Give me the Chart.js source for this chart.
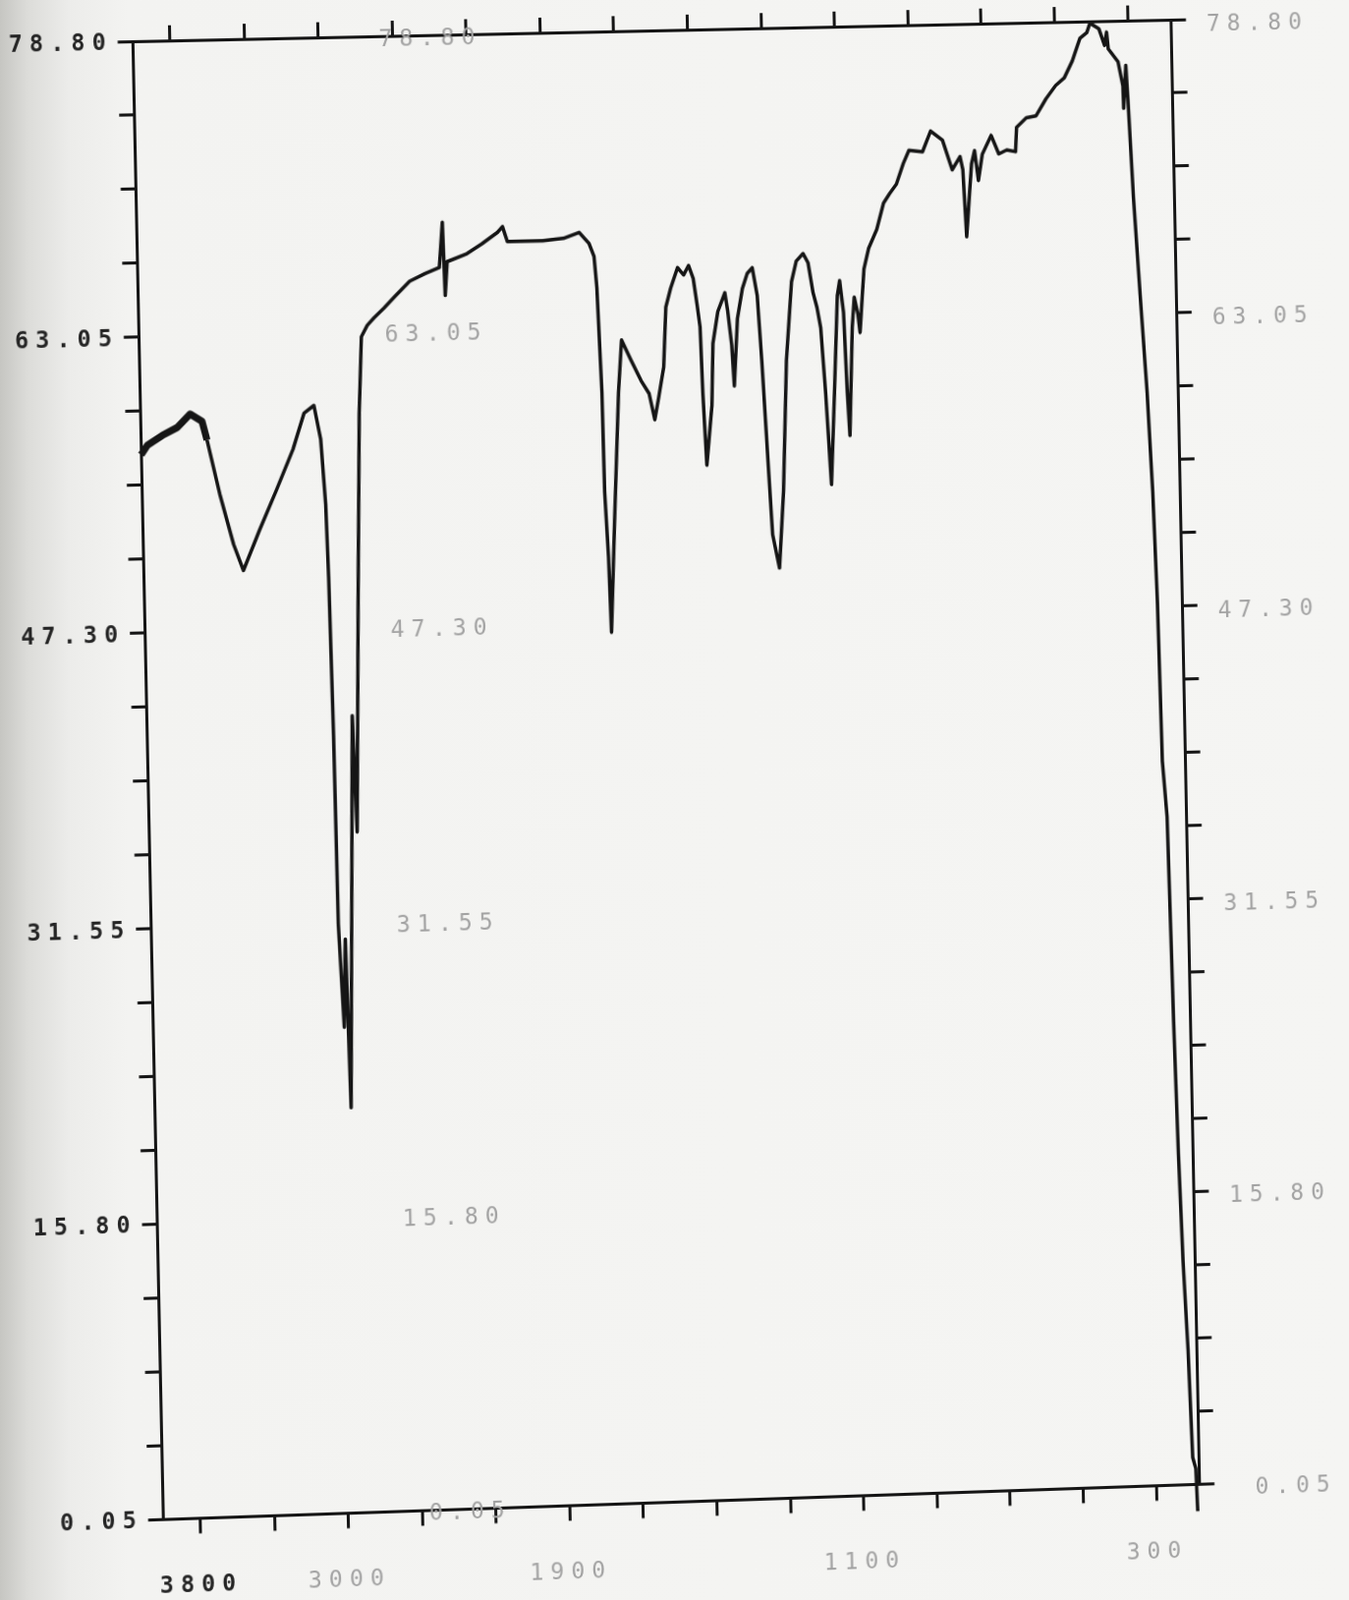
<!DOCTYPE html>
<html>
<head>
<meta charset="utf-8">
<script src="https://cdn.jsdelivr.net/npm/chart.js@4.4.1/dist/chart.umd.min.js"></script>
<style>
  html, body { margin:0; padding:0; width:1373px; height:1628px; overflow:hidden;
    background: linear-gradient(to right, #c6c6c2 0px, #dcdcd9 28px, #ececea 70px, #f3f3f1 130px, #f5f5f3 100%); }
  #wrap { position:absolute; left:0; top:0; width:1373px; height:1628px; transform-origin:0 0; }
  canvas { display:block; }
</style>
</head>
<body>
<div id="wrap"><canvas id="c" width="1373" height="1628"></canvas></div>
<script>
// ---- data (wavenumber in cm-1, transmittance in %) ----
const WAVENUMBERS = [
  4000, 3965, 3884, 3803, 3732, 3669, 3644, 3581, 3512, 3462,
  3372, 3277, 3181, 3118, 3064, 3031, 3011, 3003, 2994, 2989,
  2968, 2953, 2940, 2891, 2877, 2845, 2820, 2800, 2767, 2729,
  2675, 2615, 2533, 2447, 2371, 2350, 2342, 2328, 2220, 2139,
  2053, 2025, 2000, 1957, 1904, 1848, 1805, 1779, 1766, 1760,
  1752, 1750, 1743, 1739, 1725, 1707, 1696, 1671, 1645, 1624,
  1610, 1598, 1583, 1574, 1560, 1540, 1524, 1510, 1498, 1489,
  1482, 1478, 1471, 1454, 1448, 1433, 1413, 1406, 1397, 1392,
  1380, 1365, 1351, 1337, 1325, 1316, 1303, 1296, 1279, 1264,
  1249, 1231, 1217, 1198, 1185, 1173, 1163, 1154, 1144, 1133,
  1120, 1107, 1100, 1091, 1085, 1080, 1068, 1061, 1052, 1047,
  1033, 1019, 996, 976, 959, 940, 920, 904, 867, 844,
  812, 787, 765, 758, 751, 734, 725, 716, 704, 679,
  659, 637, 613, 609, 582, 555, 527, 500, 476, 453,
  431, 412, 403, 379, 364, 358, 354, 328, 316, 315,
  307, 303, 293, 280, 266, 256, 249, 244, 234, 230,
  227, 221, 214, 205, 198, 190, 187
];
const TRANSMITTANCE = [
  56.8, 57.3, 57.8, 58.2, 58.9, 58.5, 57.5, 54.6, 51.9, 50.5,
  52.6, 54.7, 56.9, 58.8, 59.2, 57.4, 53.9, 50.0, 41.6, 31.5,
  26.0, 30.7, 21.7, 42.6, 36.4, 49.3, 58.7, 62.8, 63.4, 63.8,
  64.3, 64.9, 65.7, 66.1, 66.4, 68.8, 64.9, 66.7, 67.1, 67.6,
  68.2, 68.5, 67.7, 67.7, 67.7, 67.8, 68.1, 67.5, 66.8, 65.1,
  59.5, 54.2, 50.7, 46.7, 52.5, 59.5, 62.3, 61.2, 60.1, 59.4,
  58.0, 59.2, 60.8, 64.0, 65.0, 66.1, 65.7, 66.2, 65.5, 64.1,
  62.9, 59.3, 55.5, 58.7, 62.0, 63.7, 64.7, 63.7, 61.9, 59.7,
  63.3, 64.9, 65.7, 66.0, 64.5, 61.0, 54.9, 51.7, 49.9, 54.0,
  61.0, 65.2, 66.3, 66.7, 66.2, 64.6, 63.8, 62.7, 59.2, 54.3,
  59.2, 64.4, 65.2, 63.5, 59.2, 56.9, 62.7, 64.3, 63.4, 62.4,
  65.8, 66.9, 67.9, 69.3, 69.8, 70.3, 71.4, 72.1, 72.0, 73.1,
  72.6, 71.0, 71.7, 71.0, 67.4, 71.3, 72.0, 70.4, 71.8, 72.8,
  71.8, 72.0, 71.9, 73.2, 73.7, 73.8, 74.7, 75.4, 75.8, 76.7,
  77.9, 78.2, 78.7, 78.4, 77.5, 78.2, 77.3, 76.6, 75.3, 74.1,
  76.4, 74.6, 69.3, 64.1, 58.8, 53.5, 47.5, 39.0, 36.0, 29.8,
  24.9, 17.9, 12.1, 7.3, 1.5, 0.9, -1.4
];
const X_TICKS = [3800, 3400, 3000, 2600, 2200, 1900, 1700, 1500, 1300, 1100, 900, 700, 500, 300];
const X_LABEL_VALUES = [3800, 3000, 1900, 1100, 300];
const Y_LABEL_VALUES = [0.05, 15.80, 31.55, 47.30, 63.05, 78.80];

// ---- split wavenumber axis (scale halves below 2000 cm-1) ----
const W_MAX = 4000, W_BREAK = 2000, W_MIN = 180;
const U_HIGH = (W_MAX - W_BREAK) / 400;
const U_MAX = U_HIGH + (W_BREAK - W_MIN) / 200;
function waveToU(w) { return w >= W_BREAK ? (W_MAX - w) / 400 : U_HIGH + (W_BREAK - w) / 200; }
function uToWave(u) { return u <= U_HIGH ? W_MAX - 400 * u : W_BREAK - 200 * (u - U_HIGH); }

class WaveScale extends Chart.LinearScale {
  static id = 'wave';
  static defaults = Chart.LinearScale.defaults;
  getPixelForValue(value) { return this.getPixelForDecimal(waveToU(value) / U_MAX); }
  getValueForPixel(pixel) { return uToWave(this.getDecimalForPixel(pixel) * U_MAX); }
}
Chart.register(WaveScale);

const Y_TICKS = [];
for (let i = 0; i < Y_LABEL_VALUES.length - 1; i++) {
  const a = Y_LABEL_VALUES[i], b = Y_LABEL_VALUES[i + 1];
  for (let k = 0; k < 4; k++) Y_TICKS.push(a + (b - a) * k / 4);
}
Y_TICKS.push(Y_LABEL_VALUES[Y_LABEL_VALUES.length - 1]);

const INK = '#151515';
const DARK_TEXT = '#242424';
const FAINT = '#a2a2a2';
const FONT = '"DejaVu Sans Mono", "Liberation Mono", monospace';
Chart.defaults.font.family = FONT;

const spacing = {
  id: 'spacing',
  beforeUpdate(chart) { chart.ctx.letterSpacing = '7px'; },
  beforeDraw(chart) { chart.ctx.letterSpacing = '7px'; }
};

const innerLabels = {
  id: 'innerLabels',
  afterDraw(chart, args, opts) {
    const { ctx, scales } = chart;
    ctx.save();
    ctx.letterSpacing = '7px';
    ctx.font = '23px ' + FONT;
    ctx.fillStyle = FAINT;
    ctx.textAlign = 'right';
    ctx.textBaseline = 'middle';
    const px = scales.x.getPixelForValue(opts.wave);
    Y_LABEL_VALUES.forEach(v => {
      ctx.fillText(v.toFixed(2), px, scales.y.getPixelForValue(v) + opts.dy);
    });
    ctx.restore();
  }
};

const gridCommon = { drawOnChartArea: false, drawTicks: true, tickLength: 15, color: INK, lineWidth: 3 };
const borderCommon = { display: true, color: INK, width: 3 };

const chart = new Chart(document.getElementById('c'), {
  type: 'line',
  data: {
    datasets: [{
      data: WAVENUMBERS.map((w, i) => ({ x: w, y: TRANSMITTANCE[i] })),
      borderColor: INK,
      borderWidth: 3.5,
      segment: { borderWidth: c => (c.p0.parsed.x > 3660 ? 7 : 3.5) },
      borderJoinStyle: 'round',
      pointRadius: 0,
      tension: 0,
      fill: false,
      clip: false,
      xAxisID: 'x',
      yAxisID: 'y'
    }]
  },
  options: {
    responsive: false,
    animation: false,
    devicePixelRatio: 1,
    events: [],
    layout: { padding: { left: 26, right: 26, top: 16, bottom: 19 } },
    plugins: { legend: { display: false }, tooltip: { enabled: false }, innerLabels: { wave: 2115, dy: 4 } },
    scales: {
      x: {
        type: 'wave', position: 'bottom', min: W_MIN, max: W_MAX,
        afterBuildTicks: s => { s.ticks = X_TICKS.map(v => ({ value: v })); },
        grid: gridCommon, border: borderCommon,
        ticks: {
          autoSkip: false, maxRotation: 0, minRotation: 0, padding: 38,
          callback: (v) => X_LABEL_VALUES.includes(v) ? String(v) : '',
          color: c => (c.tick && c.tick.value === X_LABEL_VALUES[0]) ? DARK_TEXT : FAINT,
          font: c => (c.tick && c.tick.value === X_LABEL_VALUES[0]) ? { size: 23, weight: 'bold', family: FONT } : { size: 23, weight: 'normal', family: FONT }
        }
      },
      x2: {
        type: 'wave', position: 'top', min: W_MIN, max: W_MAX,
        afterBuildTicks: s => { s.ticks = X_TICKS.map(v => ({ value: v })); },
        grid: gridCommon, border: borderCommon,
        ticks: { display: false, autoSkip: false }
      },
      y: {
        type: 'linear', position: 'left', min: Y_LABEL_VALUES[0], max: Y_LABEL_VALUES[Y_LABEL_VALUES.length - 1],
        afterBuildTicks: s => { s.ticks = Y_TICKS.map(v => ({ value: v })); },
        grid: gridCommon, border: borderCommon,
        ticks: {
          autoSkip: false, padding: 5, color: DARK_TEXT, labelOffset: 2,
          font: { size: 23, weight: 'bold', family: FONT },
          callback: (v, i) => i % 4 === 0 ? Y_LABEL_VALUES[i / 4].toFixed(2) : ''
        }
      },
      y2: {
        type: 'linear', position: 'right', min: Y_LABEL_VALUES[0], max: Y_LABEL_VALUES[Y_LABEL_VALUES.length - 1],
        afterBuildTicks: s => { s.ticks = Y_TICKS.map(v => ({ value: v })); },
        grid: gridCommon, border: borderCommon,
        ticks: {
          autoSkip: false, padding: 10.5, color: FAINT, crossAlign: 'far', labelOffset: 6,
          font: { size: 23, weight: 'normal', family: FONT },
          callback: (v, i) => i % 4 === 0 ? Y_LABEL_VALUES[i / 4].toFixed(2) : ''
        }
      }
    }
  },
  plugins: [spacing, innerLabels]
});

// ---- map the flat chart onto the slightly skewed photographed sheet ----
const TARGET_QUAD = [[135, 42], [1192, 20], [1221, 1510], [166, 1546]]; // TL, TR, BR, BL of plot frame
function squareToQuad(q) {
  const [x0, y0] = q[0], [x1, y1] = q[1], [x2, y2] = q[2], [x3, y3] = q[3];
  const dx1 = x1 - x2, dx2 = x3 - x2, dx3 = x0 - x1 + x2 - x3;
  const dy1 = y1 - y2, dy2 = y3 - y2, dy3 = y0 - y1 + y2 - y3;
  const den = dx1 * dy2 - dx2 * dy1;
  const g = (dx3 * dy2 - dx2 * dy3) / den;
  const h = (dx1 * dy3 - dx3 * dy1) / den;
  return { a: x1 - x0 + g * x1, b: x3 - x0 + h * x3, c: x0, d: y1 - y0 + g * y1, e: y3 - y0 + h * y3, f: y0, g, h };
}
(function applyWarp() {
  const ca = chart.chartArea;
  const sx = ca.left, sy = ca.top, sw = ca.right - ca.left, sh = ca.bottom - ca.top;
  const m = squareToQuad(TARGET_QUAD);
  const A = m.a / sw, B = m.b / sh, D = m.d / sw, E = m.e / sh, G = m.g / sw, H = m.h / sh;
  const C = m.c - A * sx - B * sy, F = m.f - D * sx - E * sy, I = 1 - G * sx - H * sy;
  document.getElementById('wrap').style.transform =
    `matrix3d(${A},${D},0,${G},${B},${E},0,${H},0,0,1,0,${C},${F},0,${I})`;
})();
</script>
</body>
</html>
